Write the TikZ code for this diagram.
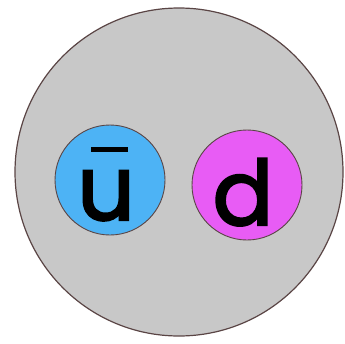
\documentclass[tikz,border=0pt]{standalone}
\usepackage{fontspec}
\setmainfont{Poppins}
\definecolor{hadron}{HTML}{C8C8C8}
\definecolor{rim}{HTML}{5A4545}
\definecolor{qblue}{HTML}{4DB3F5}
\definecolor{qmag}{HTML}{E85CF5}
\begin{document}
\begin{tikzpicture}[x=1pt,y=-1pt,
  quark/.style={circle,draw=rim,line width=0.9pt,minimum size=110pt,inner sep=0pt},
  qlabel/.style={anchor=base,font=\fontsize{90}{90}\selectfont\mdseries,inner sep=0pt}]
\useasboundingbox (0,0) rectangle (345,343);
\node[circle,draw=rim,fill=hadron,line width=1.2pt,minimum size=328pt,inner sep=0pt] (meson) at (179,172) {};
\node[quark,fill=qblue] (ubar) at (110,180) {};
\node[quark,fill=qmag] (d) at (247,185) {};
\node[qlabel] (ulab) at (106,220) {\addfontfeatures{FakeBold=2.5}u};
\node[qlabel] (dlab) at (243,225) {\addfontfeatures{FakeBold=2.5}d};
\draw[line width=5pt] (91,149) -- (128,149);
\end{tikzpicture}
\end{document}
